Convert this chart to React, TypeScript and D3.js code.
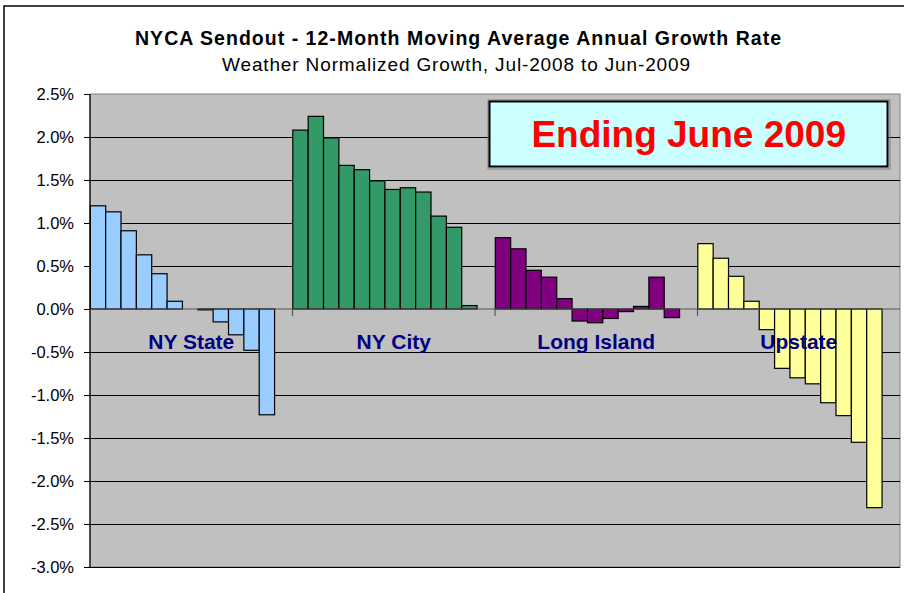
import React from "react";
import * as d3 from "d3";

const categories = ["NY State", "NY City", "Long Island", "Upstate"];
const months = ["Jul-08", "Aug-08", "Sep-08", "Oct-08", "Nov-08", "Dec-08", "Jan-09", "Feb-09", "Mar-09", "Apr-09", "May-09", "Jun-09"];
const nyState = [1.2, 1.13, 0.91, 0.63, 0.41, 0.09, 0.0, -0.01, -0.15, -0.3, -0.48, -1.23];
const nyCity = [2.08, 2.24, 1.99, 1.67, 1.62, 1.49, 1.39, 1.41, 1.36, 1.08, 0.95, 0.04];
const longIsland = [0.83, 0.7, 0.45, 0.37, 0.12, -0.14, -0.16, -0.11, -0.03, 0.03, 0.37, -0.1];
const upstate = [0.76, 0.59, 0.38, 0.09, -0.24, -0.69, -0.8, -0.87, -1.09, -1.24, -1.55, -2.31];
const regionColors = ["#99CCFF", "#339966", "#800080", "#FFFF99"];
const yTicks = [2.5, 2.0, 1.5, 1.0, 0.5, 0.0, -0.5, -1.0, -1.5, -2.0, -2.5, -3.0];

const title = "NYCA Sendout - 12-Month Moving Average Annual Growth Rate";
const subtitle = "Weather Normalized Growth, Jul-2008 to Jun-2009";
const boxText = "Ending June 2009";

const FONT = "'Liberation Sans', Arial, Helvetica, sans-serif";

export default function App() {
  const W = 904, H = 593;
  const plot = { left: 90, right: 900, top: 94, bottom: 567 };
  const series = [nyState, nyCity, longIsland, upstate];

  const x = d3.scaleBand<string>().domain(categories).range([plot.left, plot.right]).padding(0);
  const B = x.bandwidth();
  const xi = d3.scaleBand<string>().domain(months).range([0.3, B * 0.91 + 0.3]).padding(0);
  const y = d3.scaleLinear().domain([-3, 2.5]).range([plot.bottom, plot.top]);
  const y0 = y(0);

  return (
    <svg width={W} height={H} style={{ position: "absolute", left: 0, top: 0, background: "#fff" }} fontFamily={FONT}>
      <rect x={0} y={0} width={W} height={H} fill="#fff" />
      <rect x={4} y={6} width={W + 20} height={H + 20} fill="#fff" stroke="#000" strokeWidth={1.5} />

      <text x={458} y={44.5} textAnchor="middle" fontSize={19.5} fontWeight="bold" textLength={646} lengthAdjust="spacing" fill="#000">{title}</text>
      <text x={456} y={71.3} textAnchor="middle" fontSize={19} textLength={468} lengthAdjust="spacing" fill="#000">{subtitle}</text>

      <rect x={plot.left} y={plot.top} width={plot.right - plot.left} height={plot.bottom - plot.top} fill="#C0C0C0" stroke="#808080" strokeWidth={1} />

      {yTicks.filter((t) => t !== 0 && t !== 2.5).map((t) => (
        <line key={"g" + t} x1={plot.left} x2={plot.right} y1={Math.round(y(t)) + 0.5} y2={Math.round(y(t)) + 0.5} stroke="#000" strokeWidth={1} />
      ))}

      {yTicks.map((t) => (
        <g key={"t" + t}>
          <line x1={plot.left - 6} x2={plot.left} y1={Math.round(y(t)) + 0.5} y2={Math.round(y(t)) + 0.5} stroke="#000" strokeWidth={1} />
          <text x={74} y={y(t)} dy="0.36em" textAnchor="end" fontSize={16.5} fill="#000">{t.toFixed(1) + "%"}</text>
        </g>
      ))}

      {categories.map((c, ci) => (
        <g key={c}>
          {series[ci].map((v, mi) => {
            const bx = (x(c) as number) + (xi(months[mi]) as number);
            const top = Math.min(y(v), y0);
            const h = Math.abs(y(v) - y0);
            return (
              <rect key={mi} x={bx} y={top} width={xi.bandwidth()} height={h} fill={regionColors[ci]} stroke="#000" strokeWidth={1.2} />
            );
          })}
        </g>
      ))}

      <line x1={plot.left} x2={plot.right} y1={y0} y2={y0} stroke="#555" strokeWidth={1.2} />
      <line x1={plot.left} x2={plot.left} y1={plot.top} y2={plot.bottom} stroke="#000" strokeWidth={1.2} />
      {categories.slice(1).map((c) => (
        <line key={"xt" + c} x1={x(c) as number} x2={x(c) as number} y1={y0} y2={y0 + 7} stroke="#555" strokeWidth={1.2} />
      ))}

      {categories.map((c) => (
        <text key={"l" + c} x={(x(c) as number) + B / 2} y={y0 + 40} textAnchor="middle" fontSize={21} fontWeight="bold" fill="#000080">{c}</text>
      ))}

      <rect x={488} y={100} width={402} height={69} fill="none" stroke="#808080" strokeWidth={1} />
      <rect x={489.5} y={101.5} width={398} height={65} fill="#CCFFFF" stroke="#000" strokeWidth={2} />
      <text x={688.7} y={147} textAnchor="middle" fontSize={37} fontWeight="bold" fill="#FF0000">{boxText}</text>
    </svg>
  );
}
